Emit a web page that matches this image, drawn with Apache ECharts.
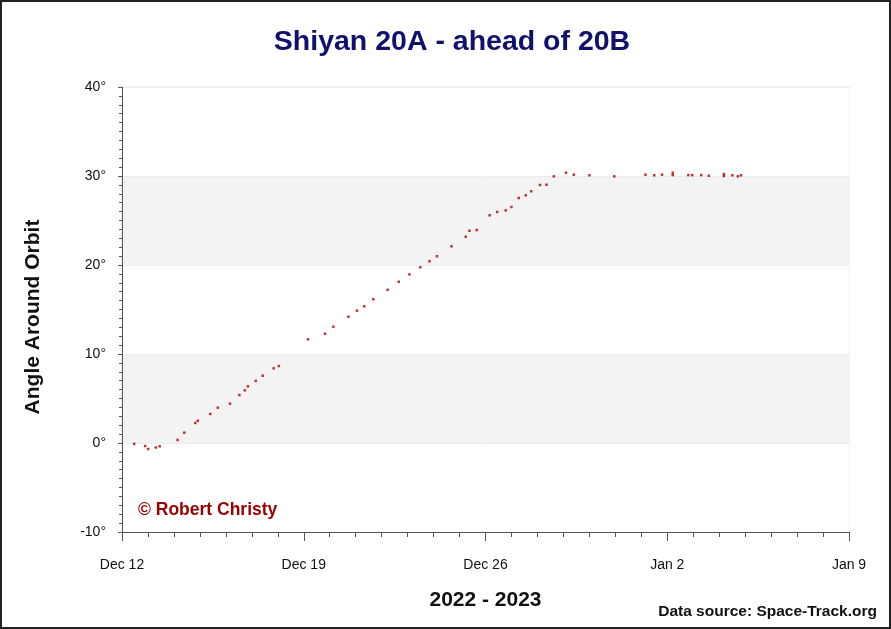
<!DOCTYPE html>
<html>
<head>
<meta charset="utf-8">
<title>Shiyan 20A - ahead of 20B</title>
<script src="https://cdn.jsdelivr.net/npm/echarts@6/dist/echarts.min.js"></script>
<style>
    html, body { margin: 0; padding: 0; background: #fff; }
    #frame { position: absolute; left: 0; top: 0; width: 891px; height: 629px; box-sizing: border-box; border: 2px solid #222; }
    #chart { position: absolute; left: 0; top: 0; width: 891px; height: 629px; }
</style>
</head>
<body>
<div id="chart"></div>
<div id="frame"></div>
<script>
    // days after Dec 12 2022 00:00 UT
    var dayOffsets = [
        0.47, 0.89, 1.01, 1.30, 1.45, 2.14, 2.40, 2.82, 2.92, 3.40,
        3.69, 4.16, 4.52, 4.73, 4.85, 5.15, 5.42, 5.84, 6.04, 7.16,
        7.82, 8.14, 8.72, 9.05, 9.33, 9.68, 10.23, 10.66, 11.07, 11.49,
        11.84, 12.13, 12.69, 13.24, 13.38, 13.66, 14.16, 14.45, 14.78, 15.00,
        15.28, 15.55, 15.76, 16.10, 16.35, 16.63, 17.10, 17.40, 18.00, 18.96,
        20.16, 20.50, 20.80, 21.21, 21.21, 21.81, 21.96, 22.31, 22.60, 23.18,
        23.18, 23.51, 23.72, 23.84
    ];
    // angle of 20A ahead of 20B, degrees
    var angles = [
        -0.1, -0.34, -0.67, -0.5, -0.37, 0.34, 1.16, 2.25, 2.5, 3.26,
        3.97, 4.42, 5.39, 5.92, 6.37, 6.97, 7.56, 8.39, 8.65, 11.65,
        12.28, 13.07, 14.19, 14.87, 15.36, 16.15, 17.22, 18.12, 18.95, 19.74,
        20.42, 20.98, 22.1, 23.18, 23.85, 23.93, 25.58, 25.96, 26.14, 26.52,
        27.53, 27.83, 28.28, 28.99, 29.02, 29.96, 30.37, 30.15, 30.08, 29.96,
        30.15, 30.08, 30.15, 30.37, 30.1, 30.1, 30.1, 30.1, 30.03, 30.22,
        30.0, 30.08, 29.96, 30.08
    ];
    var tickLabels = ['Dec 12', 'Dec 19', 'Dec 26', 'Jan 2', 'Jan 9'];

    var points = [];
    for (var i = 0; i < dayOffsets.length; i++) {
        points.push([dayOffsets[i], angles[i]]);
    }

    var FONT = 'Liberation Sans, Arial, sans-serif';
    var chart = echarts.init(document.getElementById('chart'));
    var option = {
        animation: false,
        backgroundColor: '#fff',
        title: {
            text: 'Shiyan 20A - ahead of 20B',
            left: 447,
            top: 23,
            textAlign: 'center',
            textStyle: { color: '#10106e', fontSize: 28.5, fontWeight: 'bold', fontFamily: FONT }
        },
        grid: { left: 122, right: 42, top: 87, bottom: 97, show: true, borderColor: '#e6e6e6', borderWidth: 1 },
        xAxis: {
            type: 'value',
            min: 0,
            max: 28,
            interval: 7,
            name: '2022 - 2023',
            nameLocation: 'middle',
            nameGap: 58,
            nameTextStyle: { color: '#111', fontSize: 21, fontWeight: 'bold', fontFamily: FONT },
            axisLine: { onZero: false, lineStyle: { color: '#555', width: 1 } },
            axisTick: { show: true, length: 9, lineStyle: { color: '#555' } },
            minorTick: { show: true, splitNumber: 7, length: 5, lineStyle: { color: '#555' } },
            axisLabel: {
                margin: 26,
                color: '#111',
                fontSize: 14,
                fontFamily: FONT,
                formatter: function (v) { return tickLabels[Math.round(v / 7)]; }
            },
            splitLine: { show: false }
        },
        yAxis: {
            type: 'value',
            min: -10,
            max: 40,
            interval: 10,
            axisLine: { show: true, lineStyle: { color: '#555', width: 1 } },
            axisTick: { show: true, length: 4, lineStyle: { color: '#555' } },
            minorTick: { show: true, splitNumber: 10, length: 3, lineStyle: { color: '#555' } },
            axisLabel: {
                margin: 16,
                color: '#111',
                fontSize: 14,
                fontFamily: FONT,
                formatter: function (v) { return v + '°'; }
            },
            splitLine: { show: true, lineStyle: { color: '#ececec', width: 1 } },
            splitArea: { show: true, areaStyle: { color: ['#ffffff', '#f3f3f3'] } }
        },
        graphic: [
            {
                type: 'text',
                x: 33,
                y: 317,
                rotation: Math.PI / 2,
                z: 100,
                style: { text: 'Angle Around Orbit', fill: '#111', font: 'bold 21px ' + FONT, align: 'center', verticalAlign: 'middle' }
            },
            {
                type: 'text',
                left: 138,
                top: 501,
                z: 100,
                style: { text: '© Robert Christy', fill: '#990000', font: 'bold 17.5px ' + FONT }
            },
            {
                type: 'text',
                right: 14,
                top: 604,
                z: 100,
                style: { text: 'Data source: Space-Track.org', fill: '#111', font: 'bold 15.5px ' + FONT }
            }
        ],
        series: [{
            type: 'scatter',
            data: points,
            symbol: 'rect',
            symbolSize: 2.5,
            itemStyle: { color: '#b00000' }
        }]
    };
    chart.setOption(option);
</script>
</body>
</html>
